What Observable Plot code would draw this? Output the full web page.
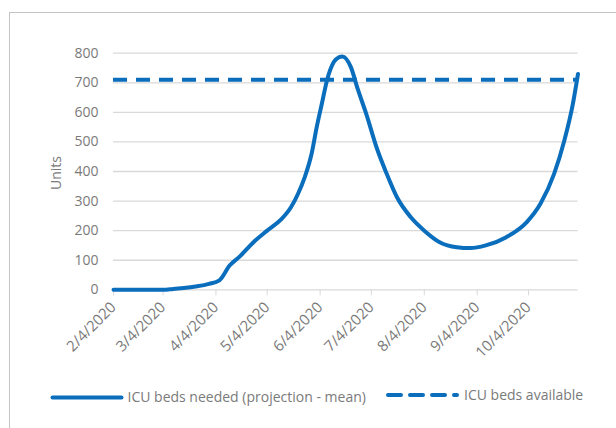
<!DOCTYPE html>
<html>
<head>
<meta charset="utf-8">
<script src="https://cdn.jsdelivr.net/npm/d3@7"></script>
<script src="https://cdn.jsdelivr.net/npm/@observablehq/plot@0.6"></script>
<style>
  body { margin: 0; background: #fff; }
  #wrap { position: relative; width: 616px; height: 428px; background: #fff; overflow: hidden; font-family: "Open Sans", sans-serif; }
  #frame { position: absolute; left: 9px; top: 12px; width: 640px; height: 460px; border: 1px solid #c4c4c4; box-sizing: border-box; }
  #chart { position: absolute; left: 0; top: 0; }
  #ylabel { position: absolute; left: 55px; top: 173px; transform: translate(-50%, -50%) rotate(-90deg); font-size: 14px; color: #7a7a7a; white-space: nowrap; }
  #legend { position: absolute; left: 0; top: 380px; }
</style>
</head>
<body>
<div id="wrap">
  <div id="frame"></div>
  <div id="chart"></div>
  <div id="ylabel">Units</div>
  <svg id="legend" width="616" height="36"></svg>
</div>
<script>
// ---- data ----
const dates = ["2020-02-04","2020-03-04","2020-03-10","2020-03-23","2020-03-31","2020-04-06","2020-04-12","2020-04-18","2020-04-26","2020-05-04","2020-05-12","2020-05-18","2020-05-22","2020-05-26","2020-05-30","2020-06-02","2020-06-05","2020-06-08","2020-06-12","2020-06-15","2020-06-17","2020-06-22","2020-06-26","2020-07-01","2020-07-07","2020-07-13","2020-07-19","2020-07-27","2020-08-04","2020-08-13","2020-08-23","2020-08-31","2020-09-09","2020-09-21","2020-10-03","2020-10-11","2020-10-19","2020-10-25","2020-10-30","2020-11-02"];
const bedsNeeded = [0,0,3,11,20,32,82,113,161,200,237,280,324,381,460,550,629,708,770,786,789,753,679,595,482,392,313,246,200,161,144,141,150,178,229,291,392,505,629,730];
const bedsAvailable = [710];
const xTickDates = ["2020-02-04","2020-03-04","2020-04-04","2020-05-04","2020-06-04","2020-07-04","2020-08-04","2020-09-04","2020-10-04"];
const yTicks = [0,100,200,300,400,500,600,700,800];
const seriesNames = ["ICU beds needed (projection - mean)", "ICU beds available"];

const parse = d3.utcParse("%Y-%m-%d");
const data = dates.map((d, i) => ({date: parse(d), value: bedsNeeded[i]}));
const ticks = xTickDates.map(parse);
const blue = "#0a6ebd";
const grid = "#d9d9d9";
const textGray = "#7a7a7a";

const chart = Plot.plot({
  width: 616,
  height: 370,
  marginLeft: 113,
  marginRight: 38.5,
  marginTop: 52.7,
  marginBottom: 80.7,
  style: {fontFamily: "Open Sans, sans-serif", fontSize: "14px", color: textGray, background: "transparent"},
  x: {type: "utc", domain: [parse(dates[0]), parse(dates[dates.length - 1])]},
  y: {domain: [0, 800]},
  marks: [
    Plot.gridY(yTicks, {stroke: grid, strokeOpacity: 1, strokeWidth: 1.3}),
    Plot.axisY(yTicks, {tickSize: 0, tickPadding: 15, label: null, fill: textGray, fontSize: 14}),
    Plot.axisX(ticks, {tickSize: 6, stroke: grid, strokeOpacity: 1, tickPadding: 9, tickRotate: -45, tickFormat: d3.utcFormat("%-m/%-d/%Y"), label: null, fill: textGray, fontSize: 15}),
    Plot.ruleY(bedsAvailable, {stroke: blue, strokeWidth: 4, strokeDasharray: "14,9"}),
    Plot.line(data, {x: "date", y: "value", stroke: blue, strokeWidth: 4, curve: "monotone-x"})
  ]
});
document.getElementById("chart").appendChild(chart);

// ---- legend ----
const lg = d3.select("#legend");
lg.append("line").attr("x1", 52.5).attr("x2", 121.5).attr("y1", 17.5).attr("y2", 17.5)
  .attr("stroke", blue).attr("stroke-width", 4).attr("stroke-linecap", "round");
lg.append("text").attr("x", 127.5).attr("y", 17.5).attr("dy", "0.35em")
  .attr("font-size", 14).attr("fill", textGray).attr("font-family", "Open Sans, sans-serif").text(seriesNames[0]);
lg.append("line").attr("x1", 388).attr("x2", 457).attr("y1", 15).attr("y2", 15)
  .attr("stroke", blue).attr("stroke-width", 4).attr("stroke-dasharray", "13,9").attr("stroke-linecap", "round");
lg.append("text").attr("x", 464).attr("y", 15).attr("dy", "0.35em")
  .attr("font-size", 14).attr("fill", textGray).attr("font-family", "Open Sans, sans-serif").text(seriesNames[1]);
</script>
</body>
</html>
